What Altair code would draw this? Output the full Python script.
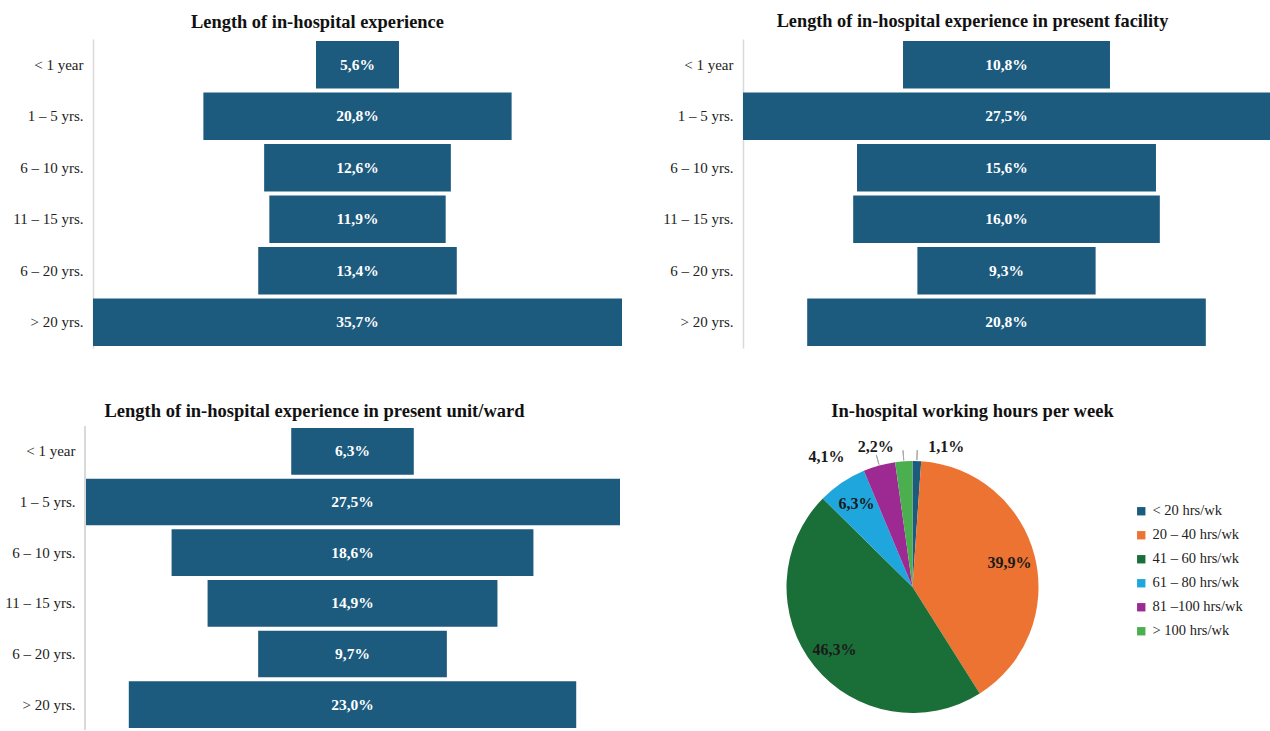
import altair as alt
import pandas as pd

# ---------------- data ----------------
cats = ["< 1 year", "1 – 5 yrs.", "6 – 10 yrs.", "11 – 15 yrs.", "6 – 20 yrs.", "> 20 yrs."]
exp_total = [5.6, 20.8, 12.6, 11.9, 13.4, 35.7]
exp_facility = [10.8, 27.5, 15.6, 16.0, 9.3, 20.8]
exp_unit = [6.3, 27.5, 18.6, 14.9, 9.7, 23.0]

hours_cats = ["< 20 hrs/wk", "20 – 40 hrs/wk", "41 – 60 hrs/wk", "61 – 80 hrs/wk",
              "81 –100 hrs/wk", "> 100 hrs/wk"]
hours_vals = [1.1, 39.9, 46.3, 6.3, 4.1, 2.2]
hours_colors = ["#1c5a7e", "#ec7332", "#1a6e38", "#1fa6dd", "#9c2a92", "#4caf4f"]

FONT = "Liberation Serif"
BAR = "#1c5a7e"
AXIS_GREY = "#d9d9d9"


def pct(v):
    return f"{v:.1f}".replace(".", ",") + "%"


def funnel(title, vals, width, height, extent, dom, tsize, tdx, toff, label_pad=10, axis_at=None):
    df = pd.DataFrame({"cat": cats, "v": vals, "label": [pct(v) for v in vals]})
    base = alt.Chart(df).transform_calculate(lo="-datum.v/2", hi="datum.v/2")
    yenc = alt.Y(
        "cat:N", sort=cats, title=None,
        scale=alt.Scale(paddingInner=0.08, paddingOuter=0.04),
        axis=alt.Axis(labelFont=FONT, labelFontSize=15, labelColor="#222222",
                      domain=axis_at is None, domainColor=AXIS_GREY, domainWidth=1.5,
                      ticks=False, labelPadding=label_pad,
                      minExtent=extent, maxExtent=extent, grid=False),
    )
    xs = alt.Scale(domain=dom, nice=False, zero=False)
    bars = base.mark_bar(color=BAR).encode(
        x=alt.X("lo:Q", scale=xs, axis=None), x2="hi:Q", y=yenc
    )
    text = base.mark_text(font=FONT, fontSize=15.5, fontWeight="bold", color="white").encode(
        x=alt.datum(0), y=alt.Y("cat:N", sort=cats), text="label:N"
    )
    layers = [bars]
    if axis_at is not None:
        layers.append(
            base.mark_rule(color=AXIS_GREY, strokeWidth=1.5).encode(x=alt.datum(axis_at))
        )
    layers.append(text)
    return alt.layer(*layers).properties(
        width=width, height=height,
        title=alt.Title(title, font=FONT, fontSize=tsize, fontWeight="bold", color="#111111",
                        offset=toff, dx=tdx),
    )


p1 = funnel("Length of in-hospital experience", exp_total, 529, 309, 93,
            [-35.7 / 2, 35.7 / 2], 18.4, -40, 8)
p2 = funnel("Length of in-hospital experience in present facility", exp_facility, 527, 309, 121,
            [-27.5 / 2, 27.5 / 2], 18.3, -34, 8)
p3 = funnel("Length of in-hospital experience in present unit/ward", exp_unit, 527, 304, 85,
            [-13.34, 13.75], 18.5, -42, 5, label_pad=18, axis_at=-13.75)

# ---------------- pie ----------------
hdf = pd.DataFrame({
    "cat": hours_cats, "v": hours_vals, "idx": list(range(len(hours_vals))),
    "label": [pct(v) for v in hours_vals],
})

pbase = alt.Chart(hdf).transform_window(
    cum="sum(v)", sort=[alt.SortField("idx")], frame=[None, 0]
).transform_calculate(mid="datum.cum - datum.v/2")

arcs = alt.Chart(hdf).mark_arc(outerRadius=126).encode(
    theta=alt.Theta("v:Q", stack=True),
    order=alt.Order("idx:Q"),
    color=alt.Color(
        "cat:N", sort=hours_cats,
        scale=alt.Scale(domain=hours_cats, range=hours_colors),
        legend=alt.Legend(title=None, orient="none", legendX=1041, legendY=465,
                          symbolType="square", symbolSize=70, symbolStrokeWidth=0,
                          labelFont=FONT, labelFontSize=14.5, labelColor="#222222",
                          rowPadding=9, labelOffset=4),
    ),
)

inside = pbase.transform_filter("datum.v >= 5").mark_text(
    font=FONT, fontSize=16, fontWeight="bold", color="#1a1a1a", radius=100
).encode(theta=alt.Theta("mid:Q", stack=False), text="label:N")

leaders = pbase.transform_filter("datum.v < 5").mark_arc(
    filled=False, stroke="#a6a6a6", strokeWidth=1, radius=137, radius2=127
).encode(theta=alt.Theta("mid:Q", stack=False), theta2="mid:Q")


def out_label(cat, align, dx, dy):
    return pbase.transform_filter(alt.datum.cat == cat).mark_text(
        font=FONT, fontSize=16, fontWeight="bold", color="#1a1a1a", radius=140,
        align=align, dx=dx, dy=dy
    ).encode(theta=alt.Theta("mid:Q", stack=False), text="label:N")


pie = alt.layer(
    arcs, leaders, inside,
    out_label(hours_cats[0], "left", 11, 0),
    out_label(hours_cats[5], "right", -9, 0),
    out_label(hours_cats[4], "right", -31, 5),
).properties(
    width=581, height=290,
    title=alt.Title("In-hospital working hours per week", font=FONT, fontSize=18.5,
                    fontWeight="bold", color="#111111", offset=19, dx=60),
)

chart = alt.concat(
    p1, p2, p3, pie, columns=2, align="none", bounds="full",
    spacing={"row": 53, "column": 0},
).properties(
    padding={"left": 0, "top": 11, "right": 0, "bottom": 0},
    background="white",
).configure_view(strokeWidth=0)

chart.save("out.html", embed_options={"renderer": "svg", "actions": False})
